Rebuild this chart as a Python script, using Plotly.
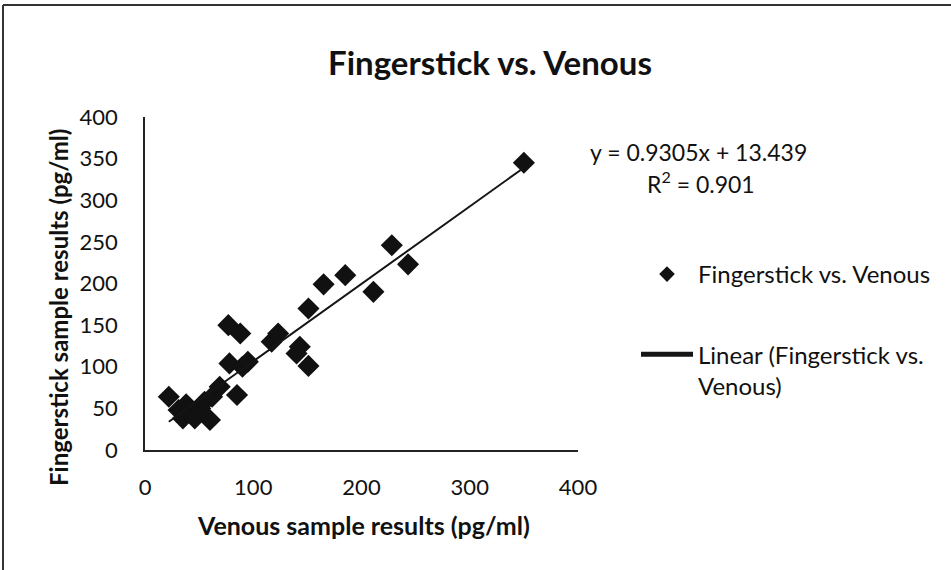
import plotly.graph_objects as go

# ---- data ----
venous = [22, 31, 35, 38, 42, 46, 51, 55, 60, 62, 69, 77, 78, 85, 88, 90, 95,
          117, 123, 140, 143, 151, 151, 165, 185, 211, 228, 243, 350]
fingerstick = [64, 48, 38, 55, 44, 38, 50, 58, 36, 64, 76, 150, 104, 66, 140, 100, 106,
               130, 140, 116, 124, 101, 170, 199, 210, 190, 246, 223, 345]
slope = 0.9305
intercept = 13.439
x_ticks = [0, 100, 200, 300, 400]
y_ticks = [0, 50, 100, 150, 200, 250, 300, 350, 400]

FONT = "Lato"
W, H = 951, 570
L, R, T, B = 145, 373, 117, 120
PW, PH = W - L - R, H - T - B


def px_x(px):
    return (px - L) / PW


def px_y(py):
    return (H - B - py) / PH


trend_x = [min(venous), max(venous)]
trend_y = [slope * v + intercept for v in trend_x]

fig = go.Figure()
fig.add_trace(go.Scatter(
    x=venous, y=fingerstick, mode="markers",
    name="Fingerstick vs. Venous",
    marker=dict(symbol="diamond", size=17, color="#111111"),
    legendgroup="a",
))
fig.add_trace(go.Scatter(
    x=trend_x, y=trend_y, mode="lines",
    name="Linear (Fingerstick vs.<br>Venous)",
    line=dict(color="#151515", width=2),
    legendgroup="b",
))

fig.update_layout(
    width=W, height=H,
    margin=dict(l=L, r=R, t=T, b=B),
    paper_bgcolor="white", plot_bgcolor="white",
    font=dict(family=FONT, color="#111", size=18),
    showlegend=True,
    legend=dict(
        x=px_x(636), y=px_y(252), xanchor="left", yanchor="top",
        font=dict(family=FONT, size=24, color="#111"),
        itemsizing="constant", itemwidth=52,
        tracegroupgap=46, traceorder="grouped", valign="top",
        bgcolor="rgba(0,0,0,0)",
    ),
    xaxis=dict(
        range=[0, 400], tickvals=x_ticks, showgrid=False, zeroline=False,
        showline=True, linecolor="#222", linewidth=1.5, ticks="",
        ticklabelstandoff=17, tickfont=dict(family=FONT, size=22, color="#111"),
    ),
    yaxis=dict(
        range=[0, 400], tickvals=y_ticks, showgrid=False, zeroline=False,
        showline=True, linecolor="#222", linewidth=1.5, ticks="",
        ticklabelstandoff=21, tickfont=dict(family=FONT, size=22, color="#111"),
    ),
    annotations=[
        dict(text="<b>Fingerstick vs. Venous</b>", xref="paper", yref="paper",
             x=px_x(490), y=px_y(62), xanchor="center", yanchor="middle",
             showarrow=False, font=dict(family=FONT, size=33, color="#111")),
        dict(text="<b>Venous sample results (pg/ml)</b>", xref="paper", yref="paper",
             x=px_x(363), y=px_y(525), xanchor="center", yanchor="middle",
             showarrow=False, font=dict(family=FONT, size=25, color="#111")),
        dict(text="<b>Fingerstick sample results (pg/ml)</b>", xref="paper", yref="paper",
             x=px_x(58), y=px_y(308), xanchor="center", yanchor="middle",
             showarrow=False, textangle=-90,
             font=dict(family=FONT, size=24, color="#111")),
        dict(text="y = 0.9305x + 13.439", xref="paper", yref="paper",
             x=px_x(588), y=px_y(152), xanchor="left", yanchor="middle",
             showarrow=False, font=dict(family=FONT, size=23, color="#111")),
        dict(text="R<sup>2</sup> = 0.901", xref="paper", yref="paper",
             x=px_x(645), y=px_y(182), xanchor="left", yanchor="middle",
             showarrow=False, font=dict(family=FONT, size=23, color="#111")),
    ],
    shapes=[
        dict(type="line", xref="paper", yref="paper",
             x0=px_x(3), x1=px_x(3), y0=px_y(5), y1=px_y(570),
             line=dict(color="#333", width=2)),
        dict(type="line", xref="paper", yref="paper",
             x0=px_x(3), x1=px_x(951), y0=px_y(5), y1=px_y(5),
             line=dict(color="#333", width=2)),
    ],
)

fig.write_html(
    "out.html",
    config={"displayModeBar": False},
    post_script="document.body.style.margin='0';document.body.style.overflow='hidden';",
)
